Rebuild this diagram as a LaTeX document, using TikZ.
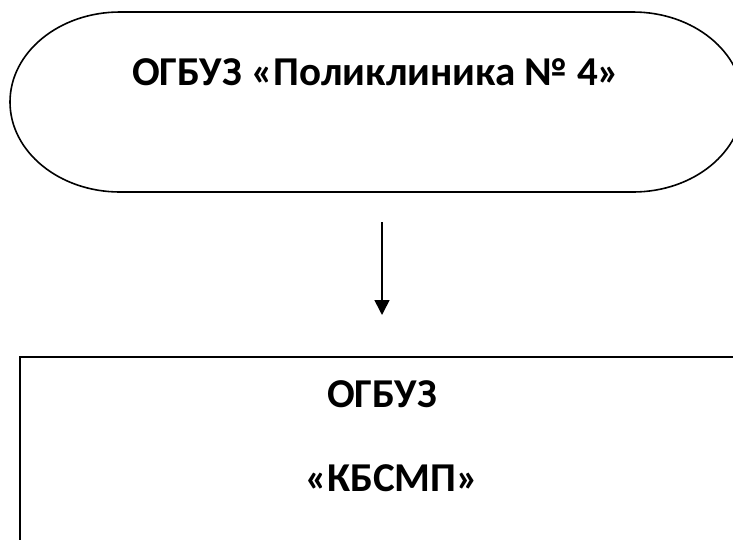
\documentclass[tikz,border=0pt]{standalone}
\usepackage{fontspec}
\setmainfont{Carlito}
\usetikzlibrary{arrows.meta}
\tikzset{
  lbl/.style={font=\fontsize{41}{45}\selectfont\bfseries, inner sep=0pt, anchor=base},
  shapeline/.style={line width=1.6pt},
  boxline/.style={line width=2pt},
  conn/.style={line width=1.6pt, -{Triangle[width=15pt,length=15pt]}},
}
\begin{document}
\begin{tikzpicture}[x=1pt,y=-1pt]
\useasboundingbox (0,0) rectangle (733,539);
\clip (0,0) rectangle (733,539);
% terminator shape
\draw[shapeline] (120,12) -- (633,12)
  arc[start angle=90, end angle=-90, x radius=110pt, y radius=90pt]
  -- (120,192)
  arc[start angle=270, end angle=90, x radius=110pt, y radius=90pt] -- cycle;
\node[lbl] (top) at (376,85) {ОГБУЗ «Поликлиника № 4»};
% arrow
\coordinate (a1) at (382,222);
\coordinate (a2) at (382,315);
\draw[conn] (a1) -- (a2);
% rectangle
\draw[boxline] (20,560) -- (20,357) -- (760,357);
\node[lbl] (b1) at (382,407) {ОГБУЗ};
\node[lbl] (b2) at (392,491) {«КБСМП»};
\end{tikzpicture}
\end{document}
